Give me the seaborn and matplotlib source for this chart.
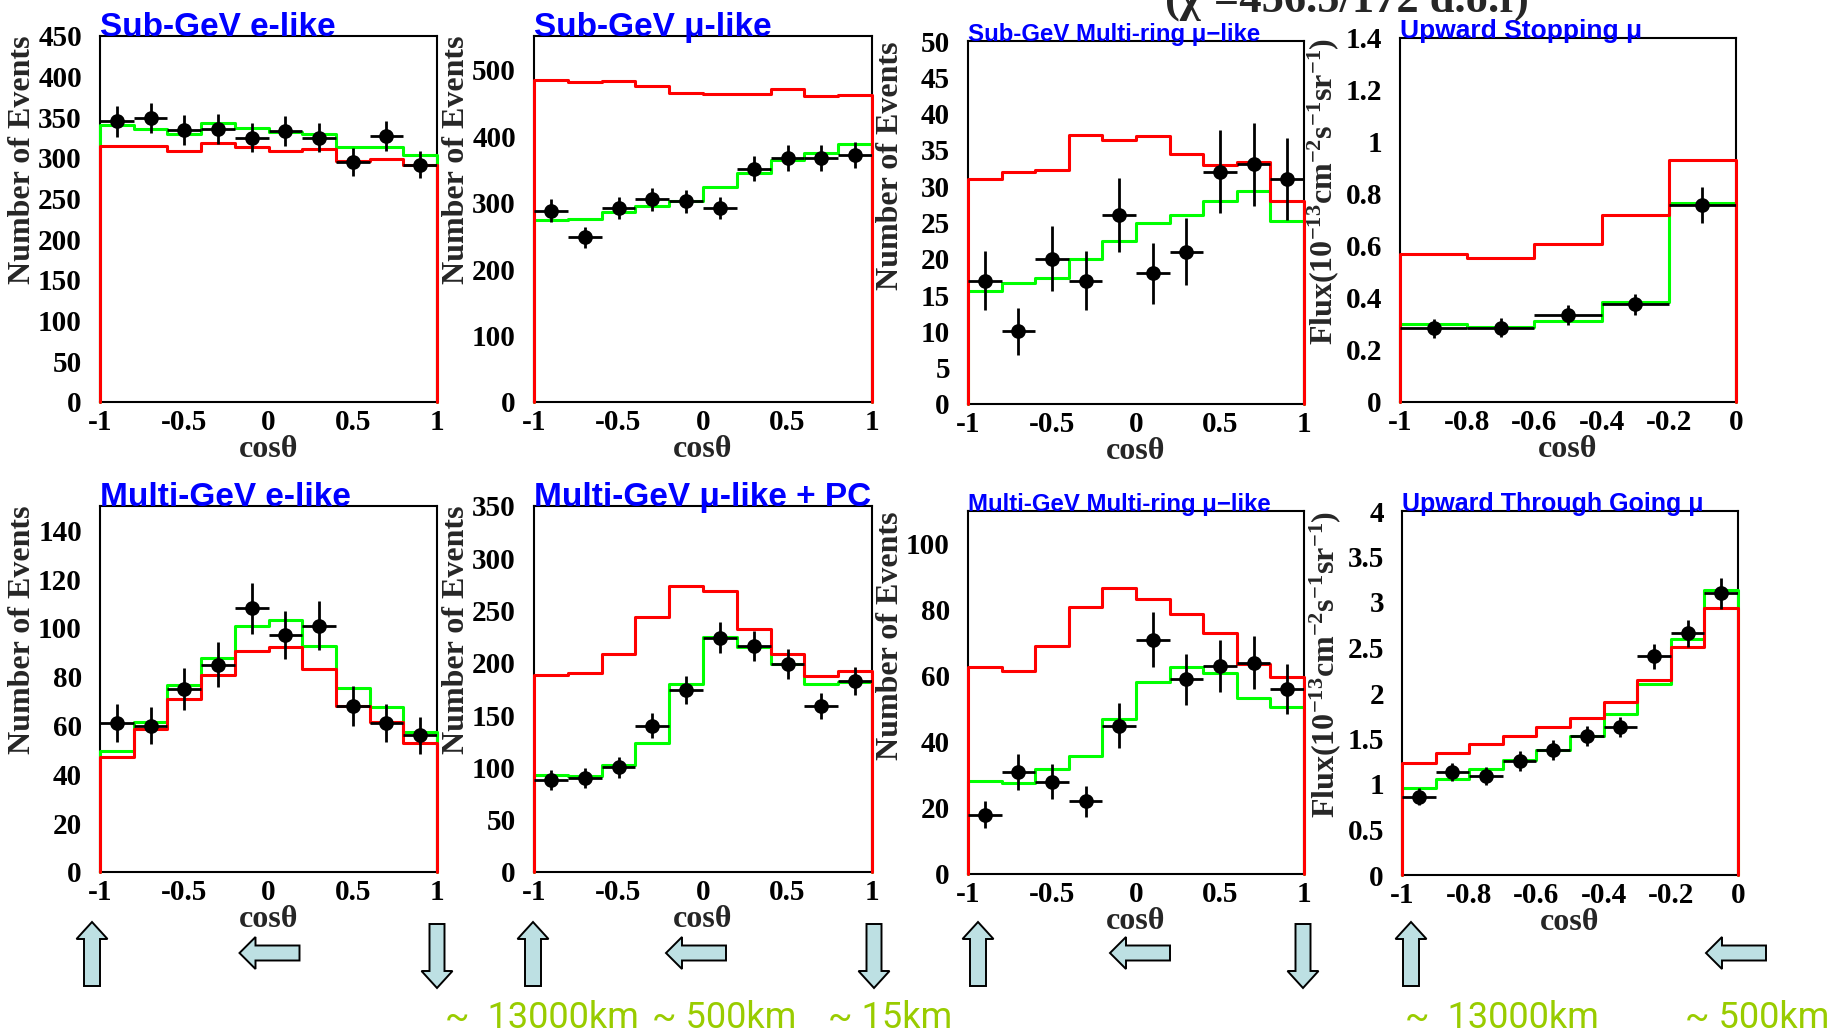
import numpy as np
import matplotlib
matplotlib.use("Agg")
import matplotlib.pyplot as plt
import seaborn as sns
from matplotlib.ticker import MultipleLocator, FuncFormatter
from matplotlib.patches import FancyArrow
from matplotlib.transforms import IdentityTransform

# ---------------- data ----------------
edges_full = [-1.0, -0.8, -0.6, -0.4, -0.2, 0.0, 0.2, 0.4, 0.6, 0.8, 1.0]
edges_upstop = [-1.0, -0.8, -0.6, -0.4, -0.2, 0.0]
edges_upthru = [-1.0, -0.9, -0.8, -0.7, -0.6, -0.5, -0.4, -0.3, -0.2, -0.1, 0.0]

sub_e_data = [345, 349, 334, 336, 325, 333, 325, 295, 327, 292]
sub_e_err = [18.6, 18.7, 18.3, 18.3, 18.0, 18.2, 18.0, 17.2, 18.1, 17.1]
sub_e_osc = [340, 336, 330, 343, 337, 332, 330, 313, 314, 304]
sub_e_noosc = [315, 315, 308, 319, 314, 308, 311, 296, 299, 291]

sub_mu_data = [288, 248, 292, 305, 302, 292, 351, 367, 367, 372]
sub_mu_err = [17.0, 15.7, 17.1, 17.5, 17.4, 17.1, 18.7, 19.2, 19.2, 19.3]
sub_mu_osc = [274, 276, 286, 295, 303, 323, 345, 364, 375, 388]
sub_mu_noosc = [485, 482, 483, 476, 465, 464, 463, 471, 461, 462]

sub_mr_data = [17, 10, 20, 17, 26, 18, 21, 32, 33, 31]
sub_mr_err = [4.1, 3.2, 4.5, 4.1, 5.1, 4.2, 4.6, 5.7, 5.7, 5.6]
sub_mr_osc = [15.6, 16.6, 17.4, 20.0, 22.5, 25.0, 26.0, 27.9, 29.4, 25.2]
sub_mr_noosc = [31.0, 31.9, 32.3, 37.0, 36.3, 36.9, 34.4, 32.9, 33.4, 28.0]

upstop_data = [0.284, 0.286, 0.335, 0.376, 0.757]
upstop_err = [0.036, 0.036, 0.037, 0.040, 0.070]
upstop_osc = [0.300, 0.290, 0.313, 0.386, 0.766]
upstop_noosc = [0.569, 0.555, 0.606, 0.719, 0.931]

multi_e_data = [61, 60, 75, 85, 108, 97, 101, 68, 61, 56]
multi_e_err = [7.8, 7.7, 8.7, 9.2, 10.4, 9.8, 10.0, 8.2, 7.8, 7.5]
multi_e_osc = [49.6, 61.5, 76.7, 87.9, 100.7, 103.4, 92.6, 75.3, 67.6, 57.3]
multi_e_noosc = [47.1, 58.7, 71.1, 80.7, 90.7, 92.3, 83.1, 68.1, 61.6, 52.7]

multi_mu_data = [88, 90, 100, 140, 174, 224, 216, 199, 159, 183]
multi_mu_err = [9.4, 9.5, 10.0, 11.8, 13.2, 15.0, 14.7, 14.1, 12.6, 13.5]
multi_mu_osc = [92.3, 91.6, 102.6, 123.7, 179.7, 224.6, 215.3, 198.7, 180.0, 181.8]
multi_mu_noosc = [188.3, 190.0, 208.4, 243.6, 273.3, 268.8, 232.5, 208.4, 187.6, 192.1]

multi_mr_data = [18, 31, 28, 22, 45, 71, 59, 63, 64, 56]
multi_mr_err = [4.2, 5.5, 5.3, 4.7, 6.7, 8.4, 7.7, 7.9, 8.0, 7.5]
multi_mr_osc = [28.1, 27.5, 31.7, 35.7, 47.0, 58.3, 62.8, 60.9, 53.3, 50.6]
multi_mr_noosc = [62.6, 61.4, 69.2, 80.8, 86.7, 83.4, 78.9, 73.0, 63.6, 59.8]

upthru_data = [0.862, 1.136, 1.084, 1.255, 1.378, 1.525, 1.629, 2.403, 2.657, 3.098]
upthru_err = [0.095, 0.10, 0.10, 0.11, 0.11, 0.11, 0.11, 0.14, 0.15, 0.17]
upthru_osc = [0.961, 1.060, 1.160, 1.259, 1.378, 1.525, 1.764, 2.101, 2.590, 3.134]
upthru_noosc = [1.227, 1.339, 1.438, 1.525, 1.625, 1.728, 1.903, 2.145, 2.510, 2.939]

panel_titles = ["Sub-GeV e-like", "Sub-GeV \u03bc-like", "Sub-GeV Multi-ring \u03bc\u2212like",
                "Upward Stopping \u03bc", "Multi-GeV e-like", "Multi-GeV \u03bc-like + PC",
                "Multi-GeV Multi-ring \u03bc\u2212like", "Upward Through Going \u03bc"]
events_label = "Number of Events"
flux_label = r"Flux(10$^{-13}$cm$^{-2}$s$^{-1}$sr$^{-1}$)"
x_label = "cos\u03b8"
chi2_text = "(\u03c7\u00b2=456.5/172 d.o.f)"
path_texts = ["~  13000km", "~ 500km", "~ 15km", "~  13000km", "~ 500km"]

# ---------------- style ----------------
sns.set_theme(style="white")
TICK_PT = 21
plt.rcParams.update({
    "font.family": ["Liberation Serif", "DejaVu Serif"],
    "font.weight": "bold",
    "axes.unicode_minus": False,
    "mathtext.fontset": "custom",
    "mathtext.rm": "Liberation Serif:bold",
    "mathtext.bf": "Liberation Serif:bold",
    "mathtext.it": "Liberation Serif:bold",
    "mathtext.default": "bf",
    "axes.edgecolor": "black",
    "axes.linewidth": 1.5,
    "xtick.labelsize": TICK_PT,
    "ytick.labelsize": TICK_PT,
    "xtick.color": "black",
    "ytick.color": "black",
})

W, H = 1827, 1036
fig = plt.figure(figsize=(W / 100, H / 100), dpi=100)
fig.patch.set_facecolor("white")

# axes frames in pixel units: left, top, right, bottom
frames = [(100, 36, 437, 402), (534, 36, 872, 402), (968, 41, 1304, 404), (1400, 38, 1736, 402),
          (100, 506, 437, 872), (534, 506, 872, 872), (968, 511, 1304, 874), (1402, 511, 1738, 875)]

panels = [
    dict(edges=edges_full, data=sub_e_data, err=sub_e_err, osc=sub_e_osc, noosc=sub_e_noosc,
         ymax=450, ymaj=50, ymin=10, xmaj=0.5, xmin=0.1, ylab=events_label, tsize=24),
    dict(edges=edges_full, data=sub_mu_data, err=sub_mu_err, osc=sub_mu_osc, noosc=sub_mu_noosc,
         ymax=551, ymaj=100, ymin=20, xmaj=0.5, xmin=0.1, ylab=events_label, tsize=24),
    dict(edges=edges_full, data=sub_mr_data, err=sub_mr_err, osc=sub_mr_osc, noosc=sub_mr_noosc,
         ymax=50, ymaj=5, ymin=1, xmaj=0.5, xmin=0.1, ylab=events_label, tsize=17.3),
    dict(edges=edges_upstop, data=upstop_data, err=upstop_err, osc=upstop_osc, noosc=upstop_noosc,
         ymax=1.4, ymaj=0.2, ymin=0.05, xmaj=0.2, xmin=0.05, ylab=flux_label, tsize=19),
    dict(edges=edges_full, data=multi_e_data, err=multi_e_err, osc=multi_e_osc, noosc=multi_e_noosc,
         ymax=150, ymaj=20, ymin=5, xmaj=0.5, xmin=0.1, ylab=events_label, tsize=24),
    dict(edges=edges_full, data=multi_mu_data, err=multi_mu_err, osc=multi_mu_osc, noosc=multi_mu_noosc,
         ymax=350, ymaj=50, ymin=10, xmaj=0.5, xmin=0.1, ylab=events_label, tsize=24),
    dict(edges=edges_full, data=multi_mr_data, err=multi_mr_err, osc=multi_mr_osc, noosc=multi_mr_noosc,
         ymax=110, ymaj=20, ymin=5, xmaj=0.5, xmin=0.1, ylab=events_label, tsize=17.3),
    dict(edges=edges_upthru, data=upthru_data, err=upthru_err, osc=upthru_osc, noosc=upthru_noosc,
         ymax=4, ymaj=0.5, ymin=0.1, xmaj=0.2, xmin=0.05, ylab=flux_label, tsize=18),
]

fmt = FuncFormatter(lambda v, p: f"{round(v, 6) + 0.0:g}")
axes = []
for (l, t, r, b), p, title in zip(frames, panels, panel_titles):
    ax = fig.add_axes([l / W, 1 - b / H, (r - l) / W, (b - t) / H])
    axes.append(ax)
    edges = np.asarray(p["edges"], dtype=float)
    centers = (edges[:-1] + edges[1:]) / 2
    half = (edges[1:] - edges[:-1]) / 2

    # prediction histograms as closed step outlines
    for vals, color, z in ((p["osc"], "#00ff00", 3), (p["noosc"], "#ff0000", 4)):
        xs = np.concatenate([[edges[0]], edges, [edges[-1]]])
        ys = np.concatenate([[0.0], vals, [vals[-1]], [0.0]])
        sns.lineplot(x=xs, y=ys, ax=ax, estimator=None, sort=False, drawstyle="steps-post",
                     color=color, linewidth=2.2, zorder=z, legend=False, clip_on=False)

    # observed data with error bars
    ax.errorbar(centers, p["data"], xerr=half, yerr=p["err"], fmt="none",
                ecolor="black", elinewidth=2.0, capsize=0, zorder=5)
    sns.scatterplot(x=centers, y=p["data"], ax=ax, color="black", s=112, linewidth=0,
                    zorder=6, legend=False)

    ax.set_xlim(edges[0], edges[-1])
    ax.set_ylim(0, p["ymax"])
    ax.xaxis.set_major_locator(MultipleLocator(p["xmaj"]))
    ax.xaxis.set_minor_locator(MultipleLocator(p["xmin"]))
    ax.yaxis.set_major_locator(MultipleLocator(p["ymaj"]))
    ax.yaxis.set_minor_locator(MultipleLocator(p["ymin"]))
    ax.xaxis.set_major_formatter(fmt)
    ax.yaxis.set_major_formatter(fmt)
    ax.tick_params(which="both", direction="in", top=False, right=False, colors="black",
                   labelsize=TICK_PT, width=1.1)
    ax.tick_params(which="major", length=10.5)
    ax.tick_params(which="minor", length=5)
    ax.tick_params(axis="x", which="major", pad=5)
    ax.tick_params(axis="y", which="major", pad=13)
    for sp in ax.spines.values():
        sp.set_linewidth(1.5)
        sp.set_color("black")

    ax.set_xlabel(x_label, fontsize=23, fontweight="bold", labelpad=-1)
    ax.set_ylabel(p["ylab"], fontsize=23, fontweight="bold", loc="top", va="center")
    ax.yaxis.set_label_coords(-77 / (r - l), 1.0)

    ax.text(0.0, 1.0, title, transform=ax.transAxes, ha="left", va="baseline",
            fontsize=p["tsize"], fontweight="bold", color="#0000ff",
            family=["Liberation Sans", "DejaVu Sans"], zorder=10)

# bold tick labels with explicit size once ticks exist
fig.canvas.draw()
for ax in axes:
    for lab in ax.get_xticklabels() + ax.get_yticklabels():
        lab.set_fontweight("bold")
        lab.set_fontsize(TICK_PT)

# overall fit quality, running off the top edge
fig.text(1165 / W, 1 - 12 / H, chi2_text, ha="left", va="baseline", fontsize=32,
         fontweight="bold", family=["Liberation Serif", "DejaVu Serif"])

# direction arrows below the lower panels
arrow_kw = dict(transform=IdentityTransform(), facecolor="#bde0e3", edgecolor="black",
                linewidth=1.4, length_includes_head=True)
up_shift = [-8, -1, 10, 9]
left_shift = [1, -7, 4, -2]
down_shift = [0, 2, -1, None]
for ax, us, ls, ds in zip(axes[4:], up_shift, left_shift, down_shift):
    x_lo = ax.transData.transform((ax.get_xlim()[0], 0))[0]
    x_hi = ax.transData.transform((ax.get_xlim()[1], 0))[0]
    x_mid = ax.transData.transform((0.0, 0))[0]
    fig.add_artist(FancyArrow(x_lo + us, H - 986, 0, 64, width=16, head_width=31,
                              head_length=17, **arrow_kw))
    fig.add_artist(FancyArrow(x_mid + ls + 30, H - 953, -60, 0, width=15, head_width=32,
                              head_length=16, **arrow_kw))
    if ds is not None:
        fig.add_artist(FancyArrow(x_hi + ds, H - 924, 0, -64, width=15, head_width=31,
                                  head_length=17, **arrow_kw))

# path length annotations along the bottom edge
for txt, xpix in zip(path_texts, [445, 652, 828, 1405, 1685]):
    fig.text(xpix / W, 0.0, txt, ha="left", va="bottom", fontsize=26,
             color="#99cc00", family=["Roboto", "DejaVu Sans"], fontweight="normal")

fig.savefig("out.png", dpi=100, facecolor="white")
